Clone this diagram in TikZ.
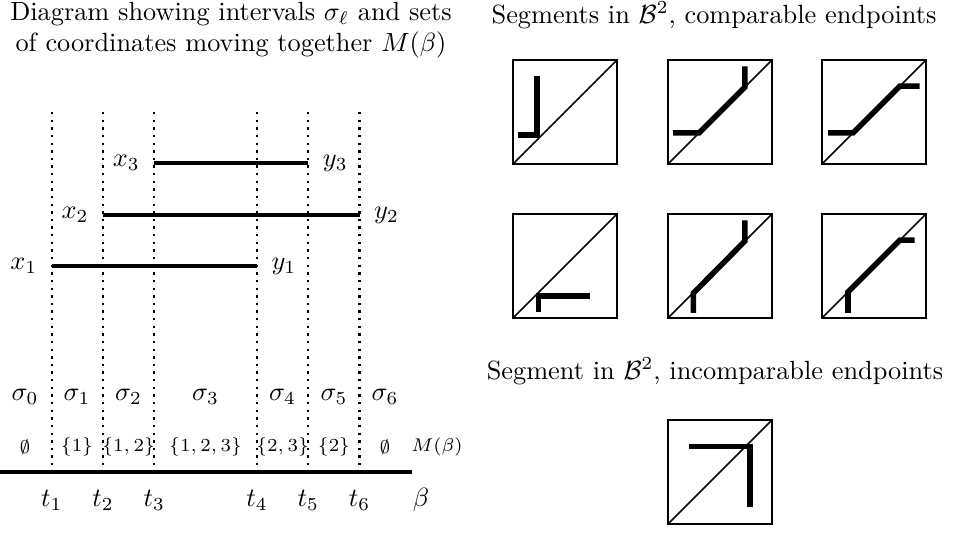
\documentclass[tikz,border=0pt]{standalone}
\usepackage{amsmath,amssymb}
\usetikzlibrary{positioning,calc}
\tikzset{
  tline/.style={dotted, line width=0.9pt},
  ivseg/.style={line width=1.7pt},
  axisline/.style={line width=1.2pt},
  sqframe/.style={line width=0.9pt},
  sqdiag/.style={line width=0.6pt},
  bseg/.style={line width=2.1pt},
  msetlbl/.style={font=\scriptsize},
  paneltitle/.style={align=center},
}
% one unit square with its diagonal, lower left corner at #1
\newcommand{\bsquare}[2]{%
  \begin{scope}[shift={#1}, x=39.5pt, y=39.5pt]
    \draw[sqframe] (0,0) rectangle (1,1);
    \draw[sqdiag] (0,0) -- (1,1);
    \draw[bseg] #2;
  \end{scope}}

\begin{document}
\begin{tikzpicture}[x=0.38pt, y=-0.38pt]
  \useasboundingbox (0,0) rectangle (956,532);

  % left panel
  \node[paneltitle] (ltitle) at (231,30)
    {Diagram showing intervals $\sigma_\ell$ and sets\\ of coordinates moving together $M(\beta)$};

  \foreach \i/\x in {1/51.7,2/103,3/154.3,4/257,5/308.3,6/359.6}{
    \coordinate (t\i) at (\x,472);
    \coordinate (u\i) at (\x,112);
    \draw[tline] (u\i) -- (t\i);
    \node (tl\i) at (\x,500) {$t_\i$};
  }
  \coordinate (a0) at (0,472);
  \coordinate (b0) at (412,472);
  \draw[axisline] (a0) -- (b0);
  \node (beta) at (421,500) {$\beta$};

  % intervals
  \coordinate (p1) at (t1 |- 0,266);
  \coordinate (q1) at (t4 |- 0,266);
  \coordinate (p2) at (t2 |- 0,215);
  \coordinate (q2) at (t6 |- 0,215);
  \coordinate (p3) at (t3 |- 0,163);
  \coordinate (q3) at (t5 |- 0,163);
  \foreach \i in {1,2,3}{
    \node[left=2pt of p\i] (x\i) {$x_\i$};
    \node[right=2pt of q\i] (y\i) {$y_\i$};
    \draw[ivseg] (p\i) -- (q\i);
  }

  % sigma_l and M(beta)
  \foreach \i/\x/\m in {0/25/{\emptyset}, 1/77/{\{1\}}, 2/128.6/{\{1,2\}}, 3/205.6/{\{1,2,3\}},
                        4/282.6/{\{2,3\}}, 5/334/{\{2\}}, 6/385/{\emptyset}}{
    \node (s\i) at (\x,397) {$\sigma_\i$};
    \node[msetlbl] (m\i) at (\x,447) {$\m$};
  }
  \node[msetlbl] (mb) at (437,447) {$M(\beta)$};

  % right panel
  \node[paneltitle] (rtitle) at (714,15) {Segments in $\mathcal{B}^2$, comparable endpoints};
  \bsquare{(513,164)}{(0.23,0.85) -- (0.23,0.28) -- (0.05,0.28)}
  \bsquare{(668,164)}{(0.05,0.3) -- (0.3,0.3) -- (0.74,0.74) -- (0.74,0.94)}
  \bsquare{(822,164)}{(0.06,0.3) -- (0.3,0.3) -- (0.75,0.75) -- (0.94,0.75)}
  \bsquare{(513,318)}{(0.245,0.06) -- (0.245,0.21) -- (0.745,0.21)}
  \bsquare{(668,318)}{(0.245,0.05) -- (0.245,0.24) -- (0.74,0.74) -- (0.74,0.94)}
  \bsquare{(822,318)}{(0.25,0.05) -- (0.25,0.25) -- (0.75,0.75) -- (0.89,0.75)}

  \node[paneltitle] (rtitle2) at (715,371) {Segment in $\mathcal{B}^2$, incomparable endpoints};
  \bsquare{(668,524)}{(0.2,0.745) -- (0.79,0.745) -- (0.79,0.16)}
\end{tikzpicture}
\end{document}
